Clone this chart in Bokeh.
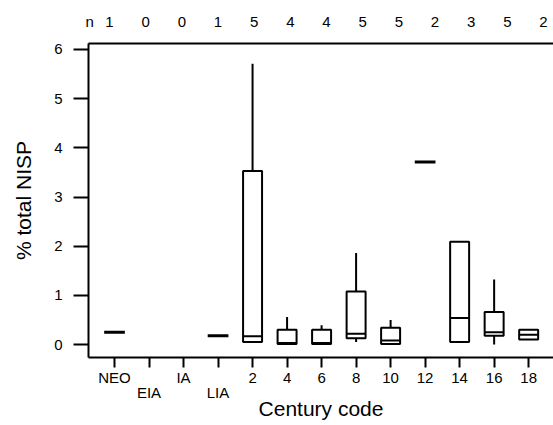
from bokeh.plotting import figure
from bokeh.models import LinearAxis, FixedTicker, Range1d, ColumnDataSource
from bokeh.embed import file_html
from bokeh.resources import INLINE

# ---- data ----
categories = ["NEO", "EIA", "IA", "LIA", "2", "4", "6", "8", "10", "12", "14", "16", "18"]
n_counts = [1, 0, 0, 1, 5, 4, 4, 5, 5, 2, 3, 5, 2]
whisker_lo = [0.25, None, None, 0.18, 0.05, 0.00, 0.00, 0.05, 0.00, 3.71, 0.05, 0.00, 0.10]
q1 =         [0.25, None, None, 0.18, 0.05, 0.01, 0.01, 0.13, 0.01, 3.71, 0.05, 0.18, 0.10]
median =     [0.25, None, None, 0.18, 0.17, 0.03, 0.03, 0.22, 0.08, 3.71, 0.54, 0.25, 0.20]
q3 =         [0.25, None, None, 0.18, 3.53, 0.30, 0.30, 1.08, 0.34, 3.71, 2.09, 0.66, 0.30]
whisker_hi = [0.25, None, None, 0.18, 5.71, 0.56, 0.39, 1.86, 0.50, 3.71, 2.09, 1.32, 0.30]
staggered = ["EIA", "LIA"]
y_ticks = [0, 1, 2, 3, 4, 5, 6]

FONT = "Liberation Sans"
TXT = "black"
pos = list(range(1, len(categories) + 1))

p = figure(width=553, height=425,
           x_range=Range1d(0.246, 13.72), y_range=Range1d(-0.264, 6.122),
           output_backend="svg", toolbar_location=None,
           min_border_left=88, min_border_right=0, min_border_top=43, min_border_bottom=68)
p.outline_line_color = None
p.grid.visible = False
p.background_fill_color = "white"
p.border_fill_color = "white"

# ---- boxes ----
bw = 0.55
box = dict(x=[], lo=[], q1=[], med=[], q3=[], hi=[])
single = dict(x=[], y=[])
for i, c in enumerate(categories):
    if n_counts[i] == 0 or q1[i] is None:
        continue
    if q3[i] > q1[i]:
        box["x"].append(pos[i]); box["lo"].append(whisker_lo[i]); box["q1"].append(q1[i])
        box["med"].append(median[i]); box["q3"].append(q3[i]); box["hi"].append(whisker_hi[i])
    else:
        single["x"].append(pos[i]); single["y"].append(median[i])

bsrc = ColumnDataSource(box)
bsrc.data["left"] = [x - bw / 2 for x in box["x"]]
bsrc.data["right"] = [x + bw / 2 for x in box["x"]]
ssrc = ColumnDataSource(single)
ssrc.data["left"] = [x - 0.3 for x in single["x"]]
ssrc.data["right"] = [x + 0.3 for x in single["x"]]

p.segment(x0="x", y0="q3", x1="x", y1="hi", source=bsrc, line_color="black", line_width=2)
p.segment(x0="x", y0="lo", x1="x", y1="q1", source=bsrc, line_color="black", line_width=2)
p.quad(left="left", right="right", bottom="q1", top="q3", source=bsrc,
       fill_color=None, line_color="black", line_width=2)
p.segment(x0="left", y0="med", x1="right", y1="med", source=bsrc, line_color="black", line_width=2)
p.segment(x0="left", y0="y", x1="right", y1="y", source=ssrc, line_color="black", line_width=3)

# ---- left axis ----
ya = p.yaxis[0]
ya.ticker = FixedTicker(ticks=y_ticks)
ya.axis_label = "% total NISP"
ya.axis_label_text_font = FONT
ya.axis_label_text_font_size = "21px"
ya.axis_label_text_font_style = "normal"
ya.axis_label_text_color = TXT
ya.axis_label_standoff = 16
ya.major_label_text_font = FONT
ya.major_label_text_font_size = "15px"
ya.major_label_text_color = TXT
ya.major_label_orientation = "horizontal"
ya.major_label_standoff = 11
ya.major_tick_out = 15
ya.major_tick_in = 0
ya.minor_tick_line_color = None
ya.axis_line_width = 2
ya.major_tick_line_width = 2

# ---- bottom axis (first row) ----
xa = p.xaxis[0]
xa.ticker = FixedTicker(ticks=pos)
xa.major_label_overrides = {pos[i]: ("" if c in staggered else c) for i, c in enumerate(categories)}
xa.major_label_text_font = FONT
xa.major_label_text_font_size = "15px"
xa.major_label_text_color = TXT
xa.major_label_standoff = 1
xa.major_tick_out = 10
xa.major_tick_in = 0
xa.minor_tick_line_color = None
xa.axis_line_width = 2
xa.major_tick_line_width = 2

# ---- bottom axis (second row, staggered labels + title) ----
xa2 = LinearAxis(ticker=FixedTicker(ticks=[pos[categories.index(c)] for c in staggered]),
                 major_label_overrides={pos[categories.index(c)]: c for c in staggered})
xa2.axis_line_color = None
xa2.major_tick_line_color = None
xa2.minor_tick_line_color = None
xa2.major_tick_out = 0
xa2.major_tick_in = 0
xa2.major_label_standoff = -5
xa2.major_label_text_font = FONT
xa2.major_label_text_font_size = "15px"
xa2.major_label_text_color = TXT
xa2.axis_label = "Century code"
xa2.axis_label_text_font = FONT
xa2.axis_label_text_font_size = "21px"
xa2.axis_label_text_font_style = "normal"
xa2.axis_label_text_color = TXT
xa2.axis_label_standoff = -7
p.add_layout(xa2, "below")

# ---- top axis with sample counts ----
p.extra_x_ranges = {"ntop": Range1d(0.419, 13.276)}
n_ticks = [0.45] + pos
n_labels = {0.45: "n"}
for i in range(len(pos)):
    n_labels[pos[i]] = str(n_counts[i])
ta = LinearAxis(x_range_name="ntop", ticker=FixedTicker(ticks=n_ticks),
                major_label_overrides=n_labels)
ta.major_tick_line_color = None
ta.minor_tick_line_color = None
ta.major_tick_out = 0
ta.major_tick_in = 0
ta.major_label_standoff = 14
ta.major_label_text_font = FONT
ta.major_label_text_font_size = "15px"
ta.major_label_text_color = TXT
ta.axis_line_width = 2
p.add_layout(ta, "above")

open("out.html", "w").write(file_html(p, INLINE))
